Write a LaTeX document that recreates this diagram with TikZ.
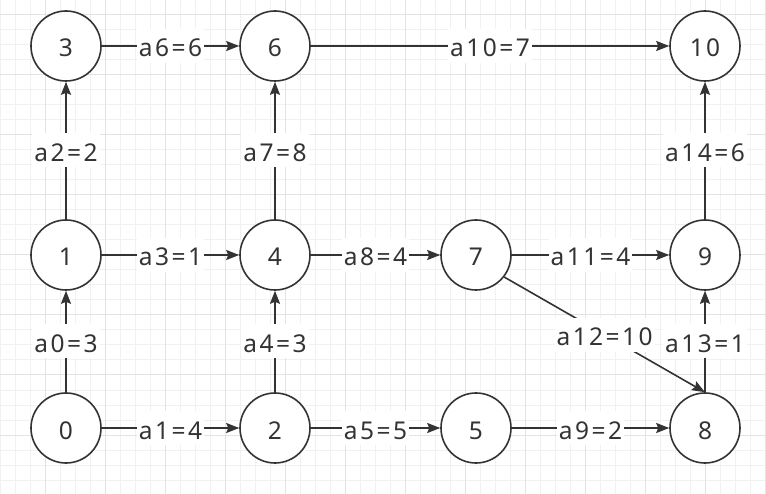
\documentclass[tikz,border=0pt]{standalone}
\usepackage{fontspec}
\setmainfont{Noto Sans}[LetterSpace=10]
\usetikzlibrary{arrows.meta}
\definecolor{ink}{HTML}{333333}
\definecolor{gridminor}{HTML}{F1F1F1}
\definecolor{gridmajor}{HTML}{E3E3E3}
\begin{document}
\begin{tikzpicture}[x=1pt,y=-1pt,
  vertex/.style={circle, draw=ink, line width=1.6pt, fill=white, minimum size=70pt,
    inner sep=0pt, text height=22pt, text depth=0pt, text=ink,
    font=\fontsize{24.5}{28}\selectfont},
  edge/.style={draw=ink, line width=1.6pt, -{Stealth[length=13pt,width=10pt,inset=2pt]}},
  lbl/.style={fill=white, inner xsep=2pt, inner ysep=4pt, text height=24pt, text depth=2pt,
    text=ink, font=\fontsize{24.5}{28}\selectfont}
]
% background and grid
\fill[white] (0,0) rectangle (766,494);
\useasboundingbox (0,0) rectangle (766,494);
\foreach \x in {0,15,...,765} \draw[gridminor, line width=1pt] (\x,0) -- (\x,494);
\foreach \y in {0,15,...,494} \draw[gridminor, line width=1pt] (0,\y) -- (766,\y);
\foreach \x in {45,105,...,765} \draw[gridmajor, line width=1pt] (\x,0) -- (\x,494);
\foreach \y in {15,75,...,494} \draw[gridmajor, line width=1pt] (0,\y) -- (766,\y);

% nodes
\node[vertex] (n3)  at (66,46)   {3};
\node[vertex] (n6)  at (275,46)  {6};
\node[vertex] (n10) at (705,46)  {10};
\node[vertex] (n1)  at (66,255)  {1};
\node[vertex] (n4)  at (275,255) {4};
\node[vertex] (n7)  at (476,255) {7};
\node[vertex] (n9)  at (705,255) {9};
\node[vertex] (n0)  at (66,428)  {0};
\node[vertex] (n2)  at (275,428) {2};
\node[vertex] (n5)  at (476,428) {5};
\node[vertex] (n8)  at (705,428) {8};

% edges
\draw[edge] (n0) -- node[lbl] {a0=3} (n1);
\draw[edge] (n0) -- node[lbl] {a1=4} (n2);
\draw[edge] (n1) -- node[lbl] {a2=2} (n3);
\draw[edge] (n1) -- node[lbl] {a3=1} (n4);
\draw[edge] (n2) -- node[lbl] {a4=3} (n4);
\draw[edge] (n2) -- node[lbl] {a5=5} (n5);
\draw[edge] (n3) -- node[lbl] {a6=6} (n6);
\draw[edge] (n4) -- node[lbl] {a7=8} (n6);
\draw[edge] (n4) -- node[lbl] {a8=4} (n7);
\draw[edge] (n5) -- node[lbl] {a9=2} (n8);
\draw[edge] (n6) -- node[lbl] {a10=7} (n10);
\draw[edge] (n7) -- node[lbl] {a11=4} (n9);
\draw[edge] (n7.-38) -- node[lbl] {a12=10} (n8.north);
\draw[edge] (n8.north) -- node[lbl] {a13=1} (n9);
\draw[edge] (n9) -- node[lbl] {a14=6} (n10);
\end{tikzpicture}
\end{document}
